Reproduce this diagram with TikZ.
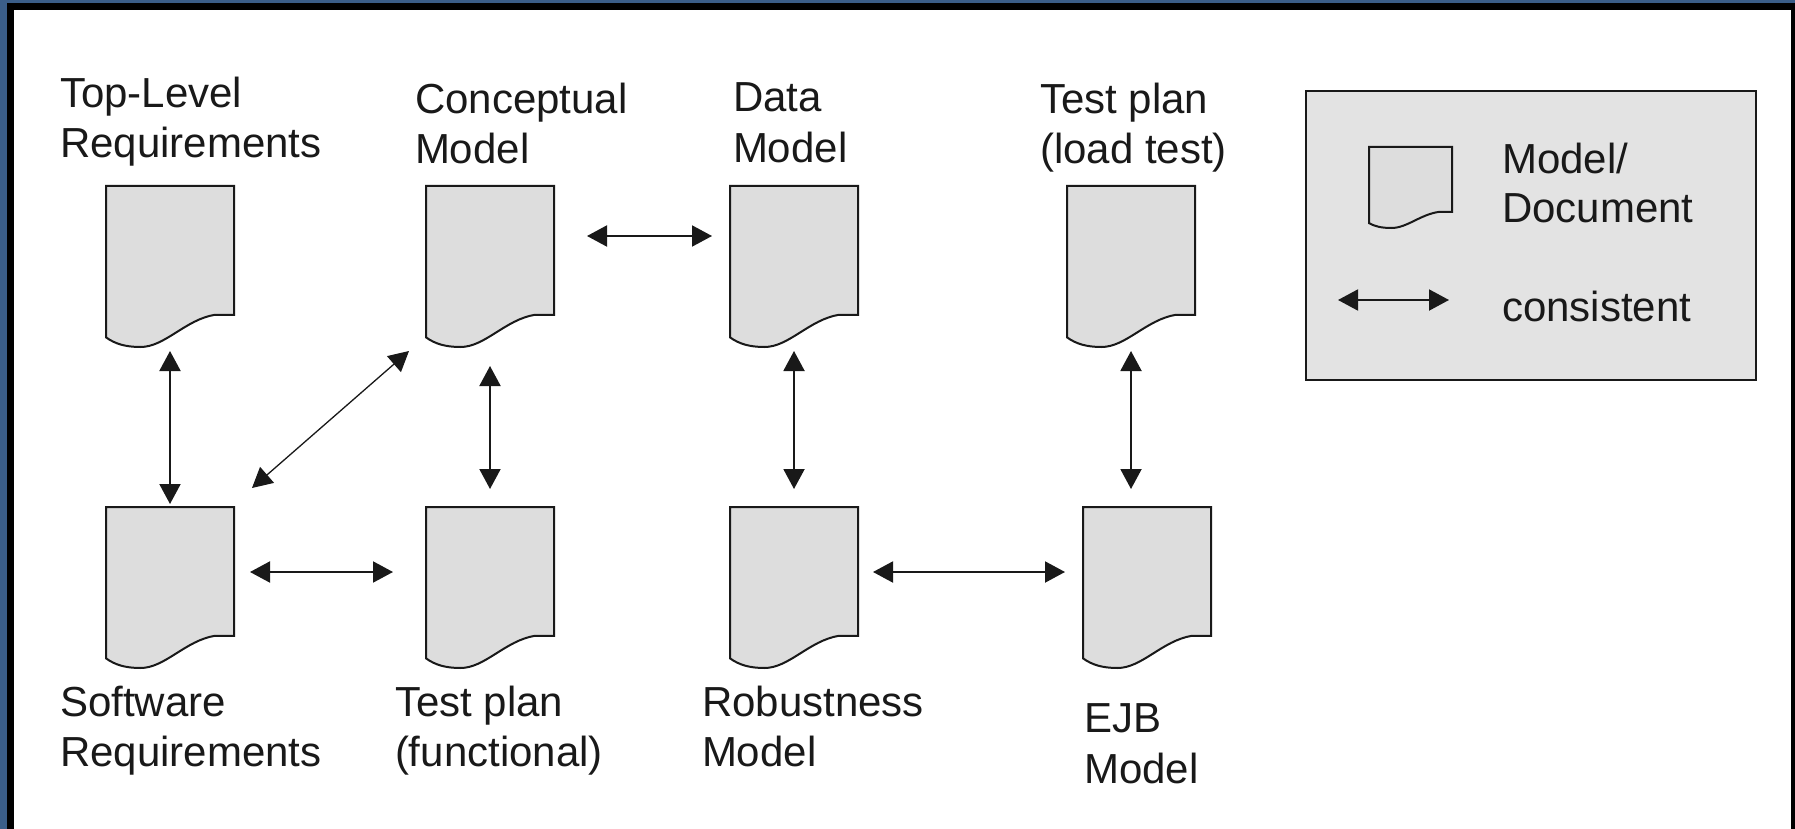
\documentclass[tikz,border=0pt]{standalone}
\usepackage{fontspec}
\setmainfont{Liberation Sans}
\usetikzlibrary{arrows.meta,calc}

\definecolor{framebl}{RGB}{59,94,137}
\definecolor{docfill}{RGB}{221,221,221}
\definecolor{legfill}{RGB}{227,227,227}
\definecolor{ink}{RGB}{25,25,25}

% page outline of a model/document symbol, placed on an (invisible) node
\newcommand{\docoutline}[3]{%
  \begin{scope}[shift={(#1.north west)},x=#2,y=-#3]
    \filldraw[docline] (0,0) -- (1,0) -- (1,0.80) -- (0.85,0.80)
      .. controls (0.62,0.83) and (0.46,1.0) .. (0.27,1.0)
      .. controls (0.15,1.0) and (0.07,0.98) .. (0,0.94) -- cycle;
  \end{scope}}

\tikzset{
  docbox/.style={rectangle, draw=none, inner sep=0pt, outer sep=0pt,
    minimum width=128pt, minimum height=161pt},
  docline/.style={draw=ink, fill=docfill, line width=2pt, line join=miter},
  arr/.style={draw=ink, line width=2pt,
    {Triangle[length=20pt,width=21pt]}-{Triangle[length=20pt,width=21pt]}},
  lbl/.style={anchor=north west, inner sep=0pt, outer sep=0pt, align=left,
    text=ink, font=\fontsize{42pt}{50.5pt}\selectfont},
  legendbox/.style={rectangle, draw=ink, fill=legfill, line width=2pt,
    inner sep=0pt, minimum width=450pt, minimum height=289pt}
}

\begin{document}
\begin{tikzpicture}[x=1pt,y=-1pt]
\useasboundingbox (0,0) rectangle (1795,829);

% frame around the sheet
\fill[framebl] (0,0) rectangle (1795,829);
\fill[black] (7,3) rectangle (1795,829);
\fill[white] (14,10) rectangle (1791,829);

% legend
\node[legendbox] (legend) at (1531,235.5) {};
\node[docbox, minimum width=83pt, minimum height=81pt] (ldoc) at (1410.5,187.5) {};
\docoutline{ldoc}{83pt}{81pt}
\coordinate (la) at (1338,300);
\coordinate (lb) at (1449,300);
\draw[arr] (la) -- (lb);
\node[lbl, font=\fontsize{42pt}{49pt}\selectfont] (ltxt1) at (1502,143) {Model/\\Document};
\node[lbl, anchor=base west] (ltxt2) at (1502,321) {consistent};

% document nodes
\node[docbox] (tl)  at (170,266.5) {};
\node[docbox] (cm)  at (490,266.5) {};
\node[docbox] (dm)  at (794,266.5) {};
\node[docbox] (tpl) at (1131,266.5) {};
\node[docbox] (sr)  at (170,587.5) {};
\node[docbox] (tpf) at (490,587.5) {};
\node[docbox] (rm)  at (794,587.5) {};
\node[docbox] (ejb) at (1147,587.5) {};
\foreach \n in {tl,cm,dm,tpl,sr,tpf,rm,ejb}{\docoutline{\n}{128pt}{161pt}}

% consistency relations
\draw[arr, shorten <=4pt, shorten >=3pt] (tl.south) -- (sr.north);
\draw[arr, line width=1.3pt]
  ([shift={(18pt,19pt)}]sr.north east) -- ([shift={(-17pt,-4pt)}]cm.south west);
\draw[arr, shorten <=19pt, shorten >=18pt] (cm.south) -- (tpf.north);
\draw[arr, shorten <=33pt, shorten >=18pt]
  ([yshift=30.5pt]cm.east) -- ([yshift=30.5pt]dm.west);
\draw[arr, shorten <=4pt, shorten >=18pt] (dm.south) -- (rm.north);
\draw[arr, shorten <=4pt, shorten >=18pt] (tpl.south) -- (tpl.south |- ejb.north);
\draw[arr, shorten <=16pt, shorten >=33pt]
  ([yshift=15.5pt]sr.east) -- ([yshift=15.5pt]tpf.west);
\draw[arr, shorten <=15pt, shorten >=18pt]
  ([yshift=15.5pt]rm.east) -- ([yshift=15.5pt]ejb.west);

% labels
\node[lbl] (t1) at (60,77)   {Top-Level\\Requirements};
\node[lbl] (t2) at (415,83)  {Conceptual\\Model};
\node[lbl] (t3) at (733,83)  {Data\\Model};
\node[lbl] (t4) at (1040,83) {Test plan\\(load test)};
\node[lbl] (b1) at (60,686)  {Software\\Requirements};
\node[lbl] (b2) at (395,686) {Test plan\\(functional)};
\node[lbl] (b3) at (702,686) {Robustness\\Model};
\node[lbl] (b4) at (1084,704) {EJB\\Model};
\end{tikzpicture}
\end{document}
